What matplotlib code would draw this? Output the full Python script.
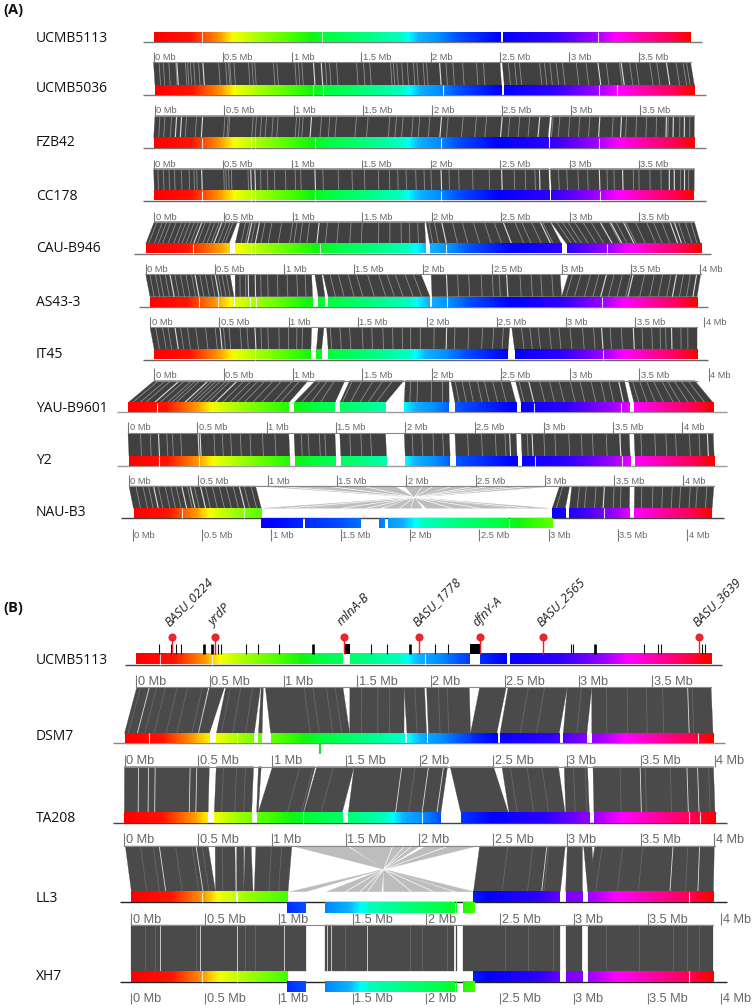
import numpy as np
import matplotlib
matplotlib.use("Agg")
import matplotlib.pyplot as plt
from matplotlib.colors import LinearSegmentedColormap
from matplotlib.collections import LineCollection, PolyCollection

# ---------- data (all positions in Mb) ----------
HUE_MB = [0, .25, .36, .46, .53, .56, .75, 1.0, 1.13, 1.25, 1.55, 1.78, 1.84, 1.92, 2.06, 2.2, 2.5, 2.88, 3.19, 3.34, 3.55, 3.75, 3.87]
HUE_COL = ['#ff0000', '#ff1400', '#ff5a00', '#ff9a00', '#ffe000', '#f5ff00', '#a0ff00', '#40ff00', '#10f510', '#00ff40',
           '#00ff80', '#00ffc0', '#00ffff', '#10b0ff', '#0090ff', '#0050ff', '#0000ff', '#3000ff', '#a000ff', '#ff00ff',
           '#ff00a0', '#ff0050', '#ff0000']

REF_A_BARS = [(0, 2.497, 0, 2.497), (2.523, 3.875, 2.523, 3.875)]
REF_A_THIN = [.353, 1.214, 3.208]
REF_B_BARS = [(0, 1.40, 0, 1.40), (1.451, 2.263, 1.451, 2.263), (2.332, 2.51, 2.332, 2.51), (2.536, 3.90, 2.536, 3.90)]
REF_B_THIN = [.165, .513, 1.96]

# ribbons: top0, top1, bottom0, bottom1, hue0, hue1 (hue None: ribbon only)
RIBBONS = {
 'UCMB5036': [(0, 2.50, 0, 2.50, 0, 2.50), (2.516, 3.875, 2.52, 3.891, 2.52, 3.875)],
 'FZB42': [(0, 2.85, 0, 2.845, 0, 2.85), (2.865, 3.891, 2.86, 3.90, 2.865, 3.875)],
 'CC178': [(0, 2.85, 0, 2.85, 0, 2.85), (2.862, 3.90, 2.865, 3.895, 2.865, 3.875)],
 'CAU-B946': [(0, .60, 0, .60, 0, .52), (.62, 1.95, .645, 2.02, .56, 1.90), (1.96, 2.855, 2.05, 3.0, 1.92, 2.85), (2.86, 3.896, 3.037, 4.004, 2.87, 3.875)],
 'AS43-3': [(0, .608, 0, .606, 0, .58), (.645, 1.197, .615, 1.173, .6, 1.16), (1.22, 1.27, 1.214, 1.262, 1.18, 1.24),
            (1.28, 1.986, 1.286, 2.02, 1.25, 1.92), (2.06, 2.99, 2.035, 2.97, 1.94, 2.87), (3.05, 4.004, 2.97, 3.947, 2.88, 3.875)],
 'IT45': [(0, 1.166, 0, 1.13, 0, 1.12), (1.214, 1.255, 1.17, 1.207, 1.15, 1.19), (1.274, 2.595, 1.255, 2.553, 1.22, 2.5), (2.61, 3.947, 2.60, 3.916, 2.53, 3.875)],
 'YAU-B9601': [(0, 1.11, 0, 1.16, 0, 1.08), (1.163, 1.375, 1.198, 1.493, 1.12, 1.36), (1.41, 1.80, 1.528, 1.858, 1.4, 1.72),
               (1.811, 2.126, 1.993, 2.317, 1.84, 2.16), (2.14, 2.568, 2.359, 2.80, 2.18, 2.52), (2.606, 3.392, 2.836, 3.616, 2.55, 3.30), (3.42, 3.90, 3.651, 4.222, 3.34, 3.875)],
 'Y2': [(0, 1.16, 0, 1.16, 0, 1.08), (1.198, 1.493, 1.198, 1.493, 1.12, 1.36), (1.528, 1.858, 1.528, 1.858, 1.4, 1.72),
        (1.993, 2.317, 1.993, 2.317, 1.84, 2.16), (2.359, 2.8, 2.359, 2.8, 2.18, 2.52), (2.836, 3.616, 2.836, 3.616, 2.55, 3.30), (3.651, 4.222, 3.651, 4.222, 3.34, 3.875)],
 'NAU-B3': [(0, .913, 0, .922, 0, .95), (3.107, 3.18, 3.021, 3.115, 2.55, 2.7), (3.195, 3.613, 3.145, 3.578, 2.78, 3.30), (3.648, 4.22, 3.613, 4.175, 3.34, 3.875)],
 'DSM7': [(.005, .49, 0, .498, 0, .5), (.498, .60, .504, .576, .5, .55), (.609, .844, .623, .88, .57, .85), (.849, .863, .908, .933, .86, .88),
          (.877, 1.403, .991, 1.527, .9, 1.43), (1.45, 1.818, 1.527, 1.895, 1.45, 1.82), (1.818, 1.956, 1.915, 2.048, 1.83, 1.96),
          (1.97, 2.26, 2.061, 2.346, 1.97, 2.26), (2.33, 2.51, 2.346, 2.524, 2.33, 2.51), (2.523, 2.924, 2.546, 2.947, 2.54, 2.93),
          (2.924, 3.09, 2.975, 3.135, 2.95, 3.11), (3.09, 3.899, 3.168, 3.99, 3.14, 3.875)],
 'TA208': [(0, .575, 0, .569, 0, .55), (.622, .875, .61, .864, .57, .86), (.908, .927, .897, .908, .88, .9), (1.003, 1.293, .908, 1.214, .92, 1.2),
           (1.304, 1.557, 1.218, 1.478, 1.21, 1.45), (1.557, 2.19, 1.519, 2.147, 1.5, 2.2), (2.208, 2.502, 2.281, 2.603, 2.3, 2.6),
           (2.559, 2.942, 2.608, 2.988, 2.61, 2.99), (2.981, 3.139, 2.993, 3.153, 3.0, 3.15), (3.176, 3.993, 3.184, 4.005, 3.18, 3.875)],
 'LL3': [(.007, .569, 0, .57, 0, .54), (.616, .75, .57, .706, .55, .68), (.762, .81, .714, .762, .69, .74), (.818, .86, .762, .825, .75, .8),
         (.892, 1.136, .833, 1.062, .82, 1.0), (2.409, 2.99, 2.319, 2.908, 2.4, 3.02), (3.003, 3.106, 2.944, 3.058, 3.08, 3.13),
         (3.114, 3.17, 3.094, 3.14, None, None), (3.19, 4.0, 3.094, 3.946, 3.18, 3.875)],
 'XH7': [(0, 1.062, 0, 1.062, 0, 1.0), (1.062, 1.184, 1.062, 1.184, None, None), (1.314, 2.189, 1.314, 2.189, None, None),
         (2.203, 2.208, 2.203, 2.208, None, None), (2.247, 2.319, 2.247, 2.319, None, None), (2.319, 2.908, 2.319, 2.908, 2.4, 3.02),
         (2.944, 3.058, 2.944, 3.058, 3.08, 3.13), (3.094, 3.946, 3.094, 3.946, 3.18, 3.875)],
}

# inverted segments drawn under the base line: bottom0, bottom1, hue0, hue1
LOWER_BARS = {
 'NAU-B3': [(.922, 1.225, 2.55, 2.36), (1.24, 1.643, 2.34, 2.13), (1.77, 1.811, 2.12, 2.08), (1.837, 2.703, 2.02, 1.2), (2.715, 3.021, 1.18, .92)],
 'LL3': [(1.057, 1.184, 2.33, 2.2), (1.314, 2.189, 2.08, 1.2), (2.203, 2.208, 1.18, 1.16), (2.247, 2.322, 1.1, 1.0)],
 'XH7': [(1.057, 1.184, 2.33, 2.2), (1.314, 2.189, 2.08, 1.2), (2.203, 2.208, 1.18, 1.16), (2.247, 2.322, 1.1, 1.0)],
}

# pale inverted links meeting at a crossing point (Mb on the upper ruler)
FAN_CROSS = {'NAU-B3': 2.058, 'LL3': 1.759}
FAN_TOP = {'NAU-B3': [(.928, 1.178), (1.196, 1.914), (1.988, 2.326), (2.356, 2.739), (2.797, 3.092)],
           'LL3': [(1.136, 1.509), (1.523, 2.007), (2.049, 2.395)]}
FAN_BOT = {'NAU-B3': [(.936, 1.231), (1.26, 1.776), (1.805, 2.085), (2.114, 2.703), (2.733, 2.998)],
           'LL3': [(1.074, 1.184), (1.323, 1.696), (1.71, 2.18), (2.203, 2.322)]}
FAN_TOP_GAPS = {'NAU-B3': [1.05, 1.42, 1.68, 2.12, 2.2, 2.5, 2.62, 2.92], 'LL3': [1.82, 1.9, 1.95, 2.2]}
FAN_BOT_GAPS = {'NAU-B3': [1.1, 1.5, 1.68, 1.92, 2.0, 2.3, 2.5, 2.85], 'LL3': [1.45, 1.55, 1.6, 1.9, 2.05]}

STRONG = {
 'UCMB5036': [.168, .356, 1.154, 1.21, 2.064, 3.206, 3.374, 3.70],
 'FZB42': [.156, .192, .344, 1.13, 2.068, 2.506, 2.777, 3.21, 3.366, 3.69, 3.74, 3.82],
 'CC178': [.346, .70, .73, 1.163, 2.073, 2.51, 2.783, 3.215, 3.383, 3.72, 3.756, 3.83],
 'CAU-B946': [.345, .49, .705, .76, 1.19, 2.073, 2.516, 2.783, 3.215, 3.29, 3.383, 3.72, 3.75],
 'AS43-3': [.175, .355, .5, .74, .79, 2.17, 2.604, 3.325, 3.517, 3.83, 3.975],
 'IT45': [.18, .505, .757, 2.14, 3.258, 3.487, 3.763],
 'YAU-B9601': [.182, .39, .60, 2.7, 3.35],
 'Y2': [.22, .506, .52, 2.753, 2.915, 3.548, 4.18],
 'NAU-B3': [.177, .38, .44, .515, .795, 3.43],
 'DSM7': [.09, 3.74],
 'TA208': [.095, .163, .208, .445, .49, 1.88, 2.061, 2.163, 3.496, 3.813, 3.885],
 'LL3': [.237, .486, 2.865, 3.72, 3.9],
 'XH7': [.194, .465, .714, 1.032, 1.323, 1.35, 1.6],
}
FAINT = {
 'UCMB5036': [.04, .07, .11, .16, .23, .245, .265, .29, .325, .47, .52, .54, .55, .58, .685, .71, .73, .865, .89, 1.02, 1.045, 1.07, 1.24, 1.27, 1.32, 1.465, 1.515, 1.56, 1.71, 1.73, 1.755, 1.79, 1.83, 1.875, 1.9, 1.945, 1.97, 2.11, 2.16, 2.23, 2.33, 2.38, 2.56, 2.605, 2.64, 2.785, 2.82, 2.86, 2.905, 2.95, 3.05, 3.12, 3.265, 3.36, 3.435, 3.48, 3.58, 3.63, 3.77, 3.82, 3.845],
 'FZB42': [.036, .072, .12, .228, .30, .505, .529, .54, .709, .733, .77, .805, .853, .889, 1.022, 1.046, 1.07, 1.202, 1.262, 1.31, 1.454, 1.538, 1.695, 1.743, 1.791, 1.863, 1.911, 1.984, 2.116, 2.224, 2.32, 2.393, 2.561, 2.633, 2.705, 2.874, 2.922, 2.994, 3.066, 3.138, 3.306, 3.402, 3.475, 3.547, 3.619, 3.703, 3.787, 3.859],
 'CC178': [.03, .07, .11, .15, .2, .255, .29, .31, .505, .52, .54, .56, .68, .77, .82, .87, .95, 1.02, 1.06, 1.22, 1.33, 1.43, 1.52, 1.62, 1.7, 1.76, 1.82, 1.89, 1.95, 2.0, 2.13, 2.2, 2.3, 2.42, 2.6, 2.68, 2.75, 2.92, 2.98, 3.06, 3.13, 3.27, 3.32, 3.46, 3.5, 3.58, 3.66, 3.8, 3.86],
 'CAU-B946': [.02, .06, .09, .12, .16, .2, .23, .26, .29, .32, .37, .41, .44, .47, .52, .55, .57, .66, .69, .73, .8, .85, .92, 1.0, 1.03, 1.07, 1.12, 1.25, 1.33, 1.42, 1.5, 1.62, 1.7, 1.78, 1.84, 1.9, 1.98, 2.02, 2.15, 2.22, 2.3, 2.38, 2.45, 2.6, 2.65, 2.72, 2.8, 2.9, 2.94, 2.98, 3.03, 3.09, 3.15, 3.28, 3.33, 3.4, 3.47, 3.55, 3.6, 3.66, 3.78, 3.83, 3.87],
 'AS43-3': [.03, .07, .1, .14, .21, .25, .29, .33, .39, .43, .47, .52, .55, .58, .68, .72, .83, .88, .95, 1.02, 1.09, 1.15, 1.33, 1.39, 1.46, 1.52, 1.6, 1.68, 1.74, 1.8, 1.87, 1.93, 2.25, 2.33, 2.42, 2.5, 2.55, 2.7, 2.78, 2.85, 2.93, 3.08, 3.14, 3.21, 3.27, 3.38, 3.44, 3.5, 3.6, 3.67, 3.73, 3.79, 3.88, 3.93],
 'IT45': [.04, .09, .13, .22, .27, .33, .4, .47, .53, .57, .65, .7, .8, .85, .93, 1.0, 1.06, 1.1, 1.3, 1.37, 1.44, 1.53, 1.6, 1.68, 1.75, 1.82, 1.88, 1.95, 2.05, 2.2, 2.3, 2.4, 2.48, 2.55, 2.68, 2.74, 2.8, 2.88, 2.95, 3.03, 3.12, 3.2, 3.32, 3.4, 3.55, 3.62, 3.68, 3.72, 3.83, 3.88],
 'YAU-B9601': [.03, .08, .12, .22, .27, .3, .33, .42, .45, .48, .52, .55, .65, .7, .75, .8, .86, .92, 1, 1.05, 1.2, 1.25, 1.3, 1.43, 1.5, 1.58, 1.65, 1.72, 1.85, 1.9, 2.0, 2.08, 2.17, 2.22, 2.27, 2.33, 2.38, 2.44, 2.5, 2.63, 2.78, 2.85, 2.92, 3, 3.07, 3.15, 3.22, 3.28, 3.45, 3.5, 3.55, 3.6, 3.66, 3.7, 3.75, 3.8, 3.85],
 'Y2': [.09, .16, .28, .32, .38, .62, .68, .74, .81, .88, .97, 1.06, 1.25, 1.3, 1.38, 1.42, 1.6, 1.68, 1.75, 2.05, 2.12, 2.2, 2.27, 2.45, 2.55, 2.65, 2.72, 2.88, 3, 3.08, 3.18, 3.27, 3.35, 3.45, 3.55, 3.7, 3.8, 3.88, 3.95, 4.05, 4.12],
 'NAU-B3': [.05, .1, .14, .21, .26, .3, .34, .42, .47, .55, .6, .65, .7, .75, .83, .88, 3.13, 3.25, 3.3, 3.37, 3.5, 3.55, 3.7, 3.78, 3.85, 3.92, 3.98, 4.05, 4.1, 4.17],
 'DSM7': [.03, .14, .2, .28, .35, .45, .64, .71, .79, 1.14, 1.2, 1.29, 1.35, 1.53, 1.64, 1.72, 1.89, 2.05, 2.11, 2.66, 2.77, 3.02, 3.19, 3.33, 3.46, 3.57, 3.77],
 'TA208': [.671, .76, .82, 1.19, 1.28, 1.417, 1.97, 2.615, 2.728, 2.83, 3.044, 3.123, 3.36, 3.53, 3.7, 3.96],
 'LL3': [.11, .195, .347, .458, .527, .665, .997, 1.067, 2.6, 2.77, 2.88, 3.24, 3.38, 3.515, 3.82],
 'XH7': [.09, .16, .44, .77, .84, 1.45, 1.89, 1.97, 2.14, 2.53, 2.69, 2.86, 3.22, 3.44, 3.675, 3.77, 3.85],
}
# thin white cuts through the coloured bars (Mb on the genome itself)
BAR_CUTS = {
 'UCMB5036': [1.14, 1.21, 2.08, 3.2, 3.33],
 'FZB42': [.35, .70, .73, 1.165, 2.07, 3.21],
 'CC178': [.346, .70, .73, 1.163, 2.07, 3.215],
 'CAU-B946': [.344, .76, .79, 1.26, 2.167, 3.33],
 'AS43-3': [.35, .49, .72, .765, 2.14, 3.26],
 'IT45': [.727, 3.24],
 'YAU-B9601': [.209, 2.93, 3.56],
 'Y2': [.22, .506, 2.93, 3.56],
 'NAU-B3': [.347, .795, 3.395],
 'DSM7': [.166, .76, 3.887],
 'TA208': [1.214, 2.02, 3.83, 3.9],
 'LL3': [.48, .714, 3.78],
 'XH7': [.48, .714, 3.78],
}

GENE_TICKS = [.156, .237, .271, .302, .746, .536, .556, .576, .827, .969, 1.593, 1.702, 2.025, 2.115, 2.947, 2.961, 3.444, 3.539, 3.556, 3.837, 3.858]
GENE_THICK = [.461, .515, 1.197, 1.858, 3.112]
GENE_BLOCKS = [(1.41, 1.451), (2.264, 2.332)]
PIN_NAMES = ['BASU_0224', 'yrdP', 'mlnA-B', 'BASU_1778', 'dfnY-A', 'BASU_2565', 'BASU_3639']
PIN_MB = [.241, .536, 1.41, 1.917, 2.33, 2.761, 3.82]
GREEN_MARK_MB = 1.323

# ---------- layout (pixels) ----------
SCALE_A, SCALE_B = 138.6, 147.5
# name, x0, ruler tick top, ribbon top, bar top, bar bottom, base left, base right, label y, ruler's last tick, base colour
ROWS_A = [
 ('UCMB5113', 153.5, None, None, 32.3, 42.3, 143, 701.7, 38, None, '#777777'),
 ('UCMB5036', 155, 51.7, 62.3, 85, 95, 143, 705.7, 89, 3.5, '#777777'),
 ('FZB42', 153.7, 105, 115.7, 137.7, 148, 143, 705.7, 142, 3.5, '#777777'),
 ('CC178', 154.3, 159.7, 168.7, 191, 200.5, 143, 705.7, 196, 3.5, '#666666'),
 ('CAU-B946', 145.7, 211.7, 221.7, 244, 253.5, 134, 711, 249, 3.5, '#777777'),
 ('AS43-3', 150, 264.3, 274.3, 296.7, 306.7, 139, 708, 302, 4, '#777777'),
 ('IT45', 154.3, 317.3, 327.3, 350, 359.5, 143, 708, 355, 4, '#666666'),
 ('YAU-B9601', 128, 368.3, 380.7, 402.7, 412.3, 116.5, 726.5, 408, 4, '#999999'),
 ('Y2', 129, 421.7, 433.3, 456, 465.7, 117, 727, 460, 4, '#999999'),
 ('NAU-B3', 133.5, 475, 486, 508.3, 518.3, 121, 724, 513, 4, '#444444'),
]
ROWS_B = [
 ('UCMB5113', 136, None, None, 654, 664.5, 124.5, 722, 661, None, '#444444'),
 ('DSM7', 124.5, 675, 687.3, 733.3, 743.3, 113, 724.5, 737, 3.5, '#888888'),
 ('TA208', 124.3, 755, 766.7, 812.3, 823.3, 113, 726.7, 819, 4, '#444444'),
 ('LL3', 131.4, 833.3, 846, 891.7, 902.3, 120.4, 726.5, 898, 4, '#222222'),
 ('XH7', 131.4, 913.3, 925.3, 971, 981.7, 120.4, 726.5, 977, 4, '#222222'),
]
LOWER_H = {'NAU-B3': 10, 'LL3': 10.4, 'XH7': 10.3}
PALE = '#bdbdbd'
RULER_C, RULER_T = '#777777', '#666666'

fig = plt.figure(figsize=(7.56, 10.08), dpi=100)
ax = fig.add_axes([0, 0, 1, 1])
cmap = LinearSegmentedColormap.from_list('genome', list(zip(np.array(HUE_MB) / HUE_MB[-1], HUE_COL)), N=512)


def bar(x0, scale, b0, b1, c0, c1, ytop, ybot):
    ax.imshow(np.linspace(c0, c1, 60)[None, :], extent=[x0 + b0 * scale, x0 + b1 * scale, ybot, ytop], cmap=cmap,
              vmin=0, vmax=HUE_MB[-1], aspect='auto', interpolation='bilinear', zorder=3)


def ruler(x0, scale, last, ytick, ybase, size):
    ticks = np.arange(0, last + .01, .5)
    ax.vlines(x0 + ticks * scale, ytick, ybase, color=RULER_C, lw=.8, zorder=5)
    for t in ticks:
        ax.text(x0 + t * scale + 1.5, (ytick + ybase) / 2 + .5, f'{t:g} Mb', fontsize=size, family='Liberation Sans',
                color=RULER_T, ha='left', va='center')


def panel(rows, scale, ref_bars, ref_thin, rsize, dark, slw, falpha):
    prev_x0, prev_end = None, None
    for name, x0, ytick, ytop, ybar, ybot, bl, br, ylab, last, basec in rows:
        ax.plot([bl, br], [ybot, ybot], color=basec, lw=1.0, zorder=2, solid_capstyle='butt')
        ax.text(36, ylab, name, fontsize=10, family='Open Sans', color='#111111', ha='left', va='center')
        if ytop is None:
            for b0, b1, c0, c1 in ref_bars:
                bar(x0, scale, b0, b1, c0, c1, ybar, ybot)
            ax.vlines(x0 + np.array(ref_thin) * scale, ybar, ybot, color='white', lw=.8, alpha=.8, zorder=4)
            prev_x0, prev_end = x0, ref_bars[-1][1]
            continue
        blocks = RIBBONS[name]
        ruler(prev_x0, scale, last, ytick, ytop, rsize)
        ax.plot([prev_x0, prev_x0 + prev_end * scale], [ytop, ytop], color='#888888', lw=.8, zorder=4)
        polys = [[(prev_x0 + t0 * scale, ytop), (prev_x0 + t1 * scale, ytop), (x0 + b1 * scale, ybar), (x0 + b0 * scale, ybar)]
                 for t0, t1, b0, b1, _, _ in blocks]
        ax.add_collection(PolyCollection(polys, facecolors=dark, edgecolors=dark, linewidths=.2, zorder=2))
        if name in FAN_CROSS:
            apex = (prev_x0 + FAN_CROSS[name] * scale, ytop + .51 * (ybar - ytop))
            tris = [[(prev_x0 + a * scale, ytop), (prev_x0 + b * scale, ytop), apex] for a, b in FAN_TOP[name]]
            tris += [[(x0 + a * scale, ybar), (x0 + b * scale, ybar), apex] for a, b in FAN_BOT[name]]
            ax.add_collection(PolyCollection(tris, facecolors=PALE, edgecolors=PALE, linewidths=.2, zorder=1))
            cuts = [[(prev_x0 + t * scale, ytop), apex] for t in FAN_TOP_GAPS[name]]
            cuts += [[(x0 + t * scale, ybar), apex] for t in FAN_BOT_GAPS[name]]
            ax.add_collection(LineCollection(cuts, colors='white', linewidths=.5, zorder=1.5))
        for t0, t1, b0, b1, c0, c1 in blocks:
            if c0 is not None:
                bar(x0, scale, b0, b1, c0, c1, ybar, ybot)
        for b0, b1, c0, c1 in LOWER_BARS.get(name, []):
            bar(x0, scale, b0, b1, c0, c1, ybot, ybot + LOWER_H[name])
        ax.vlines(x0 + np.array(BAR_CUTS.get(name, [])) * scale, ybar, ybot, color='white', lw=.8, alpha=.85, zorder=4)

        def to_bottom(t):
            for t0, t1, b0, b1, _, _ in blocks:
                if t0 <= t <= t1:
                    return b0 + (t - t0) * (b1 - b0) / (t1 - t0)
            return None
        for vals, col, lw, alpha, z in ((FAINT, '#cfcfcf', .6, falpha, 2.5), (STRONG, '#eeeeee', slw, .9, 2.6)):
            segs = []
            for t in vals.get(name, []):
                b = to_bottom(t)
                if b is not None:
                    segs.append([(prev_x0 + t * scale, ytop), (x0 + b * scale, ybar)])
            ax.add_collection(LineCollection(segs, colors=col, linewidths=lw, alpha=alpha, zorder=z))
        prev_x0 = x0
        prev_end = max(b[3] for b in blocks)
    return rows[-1]


last_a = panel(ROWS_A, SCALE_A, REF_A_BARS, REF_A_THIN, 6.7, '#404040', .8, .55)
ruler(last_a[1] - .8, SCALE_A, 4, 528.5, 541, 6.7)
last_b = panel(ROWS_B, SCALE_B, REF_B_BARS, REF_B_THIN, 9.2, '#4a4a4a', .6, .22)
ruler(last_b[1], SCALE_B, 4, 992.7, 1004, 9.2)

# gene markers on the reference of panel B
ref = ROWS_B[0]
x0b, ybar_b = ref[1], ref[4]
ax.vlines(x0b + np.array(GENE_TICKS) * SCALE_B, 644, ybar_b, color='#111111', lw=.8, zorder=5)
ax.vlines(x0b + np.array(GENE_THICK) * SCALE_B, 644, ybar_b, color='#000000', lw=1.9, zorder=5)
for g0, g1 in GENE_BLOCKS:
    ax.fill_between([x0b + g0 * SCALE_B, x0b + g1 * SCALE_B], 644, ybar_b, color='black', lw=0, zorder=5)
pin_x = x0b + np.array(PIN_MB) * SCALE_B
ax.vlines(pin_x, 637, ybar_b, color='#e3242b', lw=1.0, zorder=6)
ax.scatter(pin_x, [636.7] * len(pin_x), s=34, color='#e8262e', zorder=7, linewidths=0)
for px, nm in zip(pin_x, PIN_NAMES):
    ax.text(px - 4.5, 624, nm, rotation=45, rotation_mode='anchor', ha='left', va='center', fontsize=9.1,
            family='Open Sans', style='italic', color='#222222')

# small green mark beneath DSM7
dsm = ROWS_B[1]
ax.plot([dsm[1] + GREEN_MARK_MB * SCALE_B] * 2, [dsm[5], dsm[5] + 11], color='#22dd44', lw=1.6, zorder=5, solid_capstyle='butt')

ax.text(3, 10, '(A)', fontsize=10.5, family='Open Sans', weight='bold', color='#111111', ha='left', va='center')
ax.text(3, 608, '(B)', fontsize=10.5, family='Open Sans', weight='bold', color='#111111', ha='left', va='center')

ax.set_xlim(0, 756)
ax.set_ylim(1008, 0)
ax.axis('off')
fig.savefig('out.png', dpi=100)
